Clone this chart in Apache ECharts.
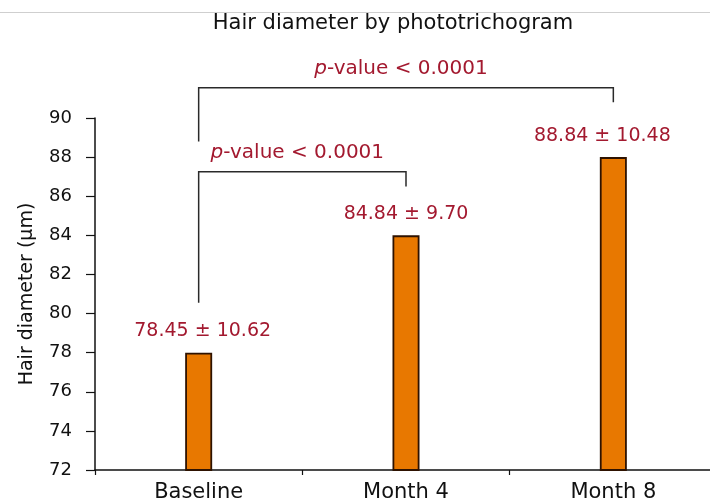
<!DOCTYPE html>
<html>
<head>
<meta charset="utf-8">
<script src="https://cdn.jsdelivr.net/npm/echarts@6/dist/echarts.min.js"></script>
<style>
  html, body { margin: 0; padding: 0; background: #ffffff; }
  #chart { width: 710px; height: 504px; }
</style>
</head>
<body>
<div id="chart"></div>
<script>
// ---- data ----
const categories = ['Baseline', 'Month 4', 'Month 8'];
const barHeights = [78, 84, 88];          // bar tops as drawn
const means = [78.45, 84.84, 88.84];      // labelled means
const sds = [10.62, 9.70, 10.48];         // labelled SDs
const yTicks = [72, 74, 76, 78, 80, 82, 84, 86, 88, 90];

// significance brackets (category indices and y values in µm)
const bracketFrom = [0, 0];
const bracketTo = [1, 2];
const bracketLeftFoot = [80.55, 88.8];
const bracketTop = [87.25, 91.55];
const bracketRightFoot = [86.5, 90.8];
const bracketText = ['p-value < 0.0001', 'p-value < 0.0001'];

// ---- chart ----
const FONT = 'DejaVu Sans';
const RED = '#a3192f';
const INK = '#111111';

const chart = echarts.init(document.getElementById('chart'), null, { renderer: 'canvas' });

const labelOffsets = [[4, 0], [0, 0], [-11, 0]];

const bracketData = bracketFrom.map((f, i) => [f, bracketTo[i], bracketLeftFoot[i], bracketTop[i], bracketRightFoot[i], i]);

const option = {
  backgroundColor: '#ffffff',
  animation: false,
  title: {
    text: 'Hair diameter by phototrichogram',
    left: 388,
    top: 8,
    textAlign: 'center',
    textStyle: { fontFamily: FONT, fontSize: 21, fontWeight: 'normal', color: INK }
  },
  graphic: [{
    type: 'line',
    shape: { x1: 0, y1: 12.5, x2: 710, y2: 12.5 },
    style: { stroke: '#cfcfcf', lineWidth: 1 },
    z: -1
  }],
  grid: { left: 95, right: -7, top: 118, bottom: 34, outerBoundsMode: 'none', containLabel: false },
  xAxis: {
    type: 'category',
    data: categories,
    axisLine: { show: true, lineStyle: { color: INK, width: 1.5 } },
    axisTick: { show: true, length: 5, lineStyle: { color: INK, width: 1.2 } },
    axisLabel: { fontFamily: FONT, fontSize: 21, color: INK, margin: 12 }
  },
  yAxis: {
    type: 'value',
    min: 72,
    max: 90,
    interval: 2,
    name: 'Hair diameter (μm)',
    nameLocation: 'middle',
    nameRotate: 90,
    nameGap: 58,
    nameTextStyle: { fontFamily: FONT, fontSize: 19, color: INK },
    axisLine: { show: true, lineStyle: { color: INK, width: 1.5 } },
    axisTick: { show: true, length: 9, lineStyle: { color: INK, width: 1.2 } },
    splitLine: { show: false },
    axisLabel: {
      fontFamily: FONT, fontSize: 18, color: INK, margin: 23,
      formatter: v => (yTicks.indexOf(v) >= 0 ? String(v) : '')
    }
  },
  series: [
    {
      type: 'bar',
      barWidth: 27,
      data: barHeights.map((v, i) => ({
        value: v,
        label: { offset: labelOffsets[i] }
      })),
      itemStyle: { color: '#e87800', borderColor: '#2e1200', borderWidth: 1.8 },
      label: {
        show: true,
        position: 'top',
        distance: 12,
        fontFamily: FONT,
        fontSize: 19,
        color: RED,
        formatter: p => means[p.dataIndex].toFixed(2) + ' ± ' + sds[p.dataIndex].toFixed(2)
      }
    },
    {
      type: 'custom',
      clip: false,
      silent: true,
      data: bracketData,
      encode: { x: [0, 1], y: [2, 3, 4] },
      renderItem: function (params, api) {
        const a = api.coord([api.value(0), api.value(2)]);
        const b = api.coord([api.value(0), api.value(3)]);
        const c = api.coord([api.value(1), api.value(3)]);
        const d = api.coord([api.value(1), api.value(4)]);
        const idx = api.value(5);
        const txt = bracketText[idx];
        const midX = (b[0] + c[0]) / 2 - 5;
        return {
          type: 'group',
          children: [
            {
              type: 'polyline',
              shape: { points: [a, b, c, d] },
              style: { stroke: '#2a2a2a', lineWidth: 1.5, fill: null }
            },
            {
              type: 'text',
              style: {
                text: '{i|p}' + txt.slice(1),
                x: midX,
                y: b[1] - 19,
                align: 'center',
                verticalAlign: 'middle',
                fill: RED,
                fontFamily: FONT,
                fontSize: 20,
                rich: {
                  i: { fontStyle: 'italic', fontFamily: FONT, fontSize: 20, fill: RED, color: RED }
                }
              }
            }
          ]
        };
      }
    }
  ]
};

chart.setOption(option);
</script>
</body>
</html>
